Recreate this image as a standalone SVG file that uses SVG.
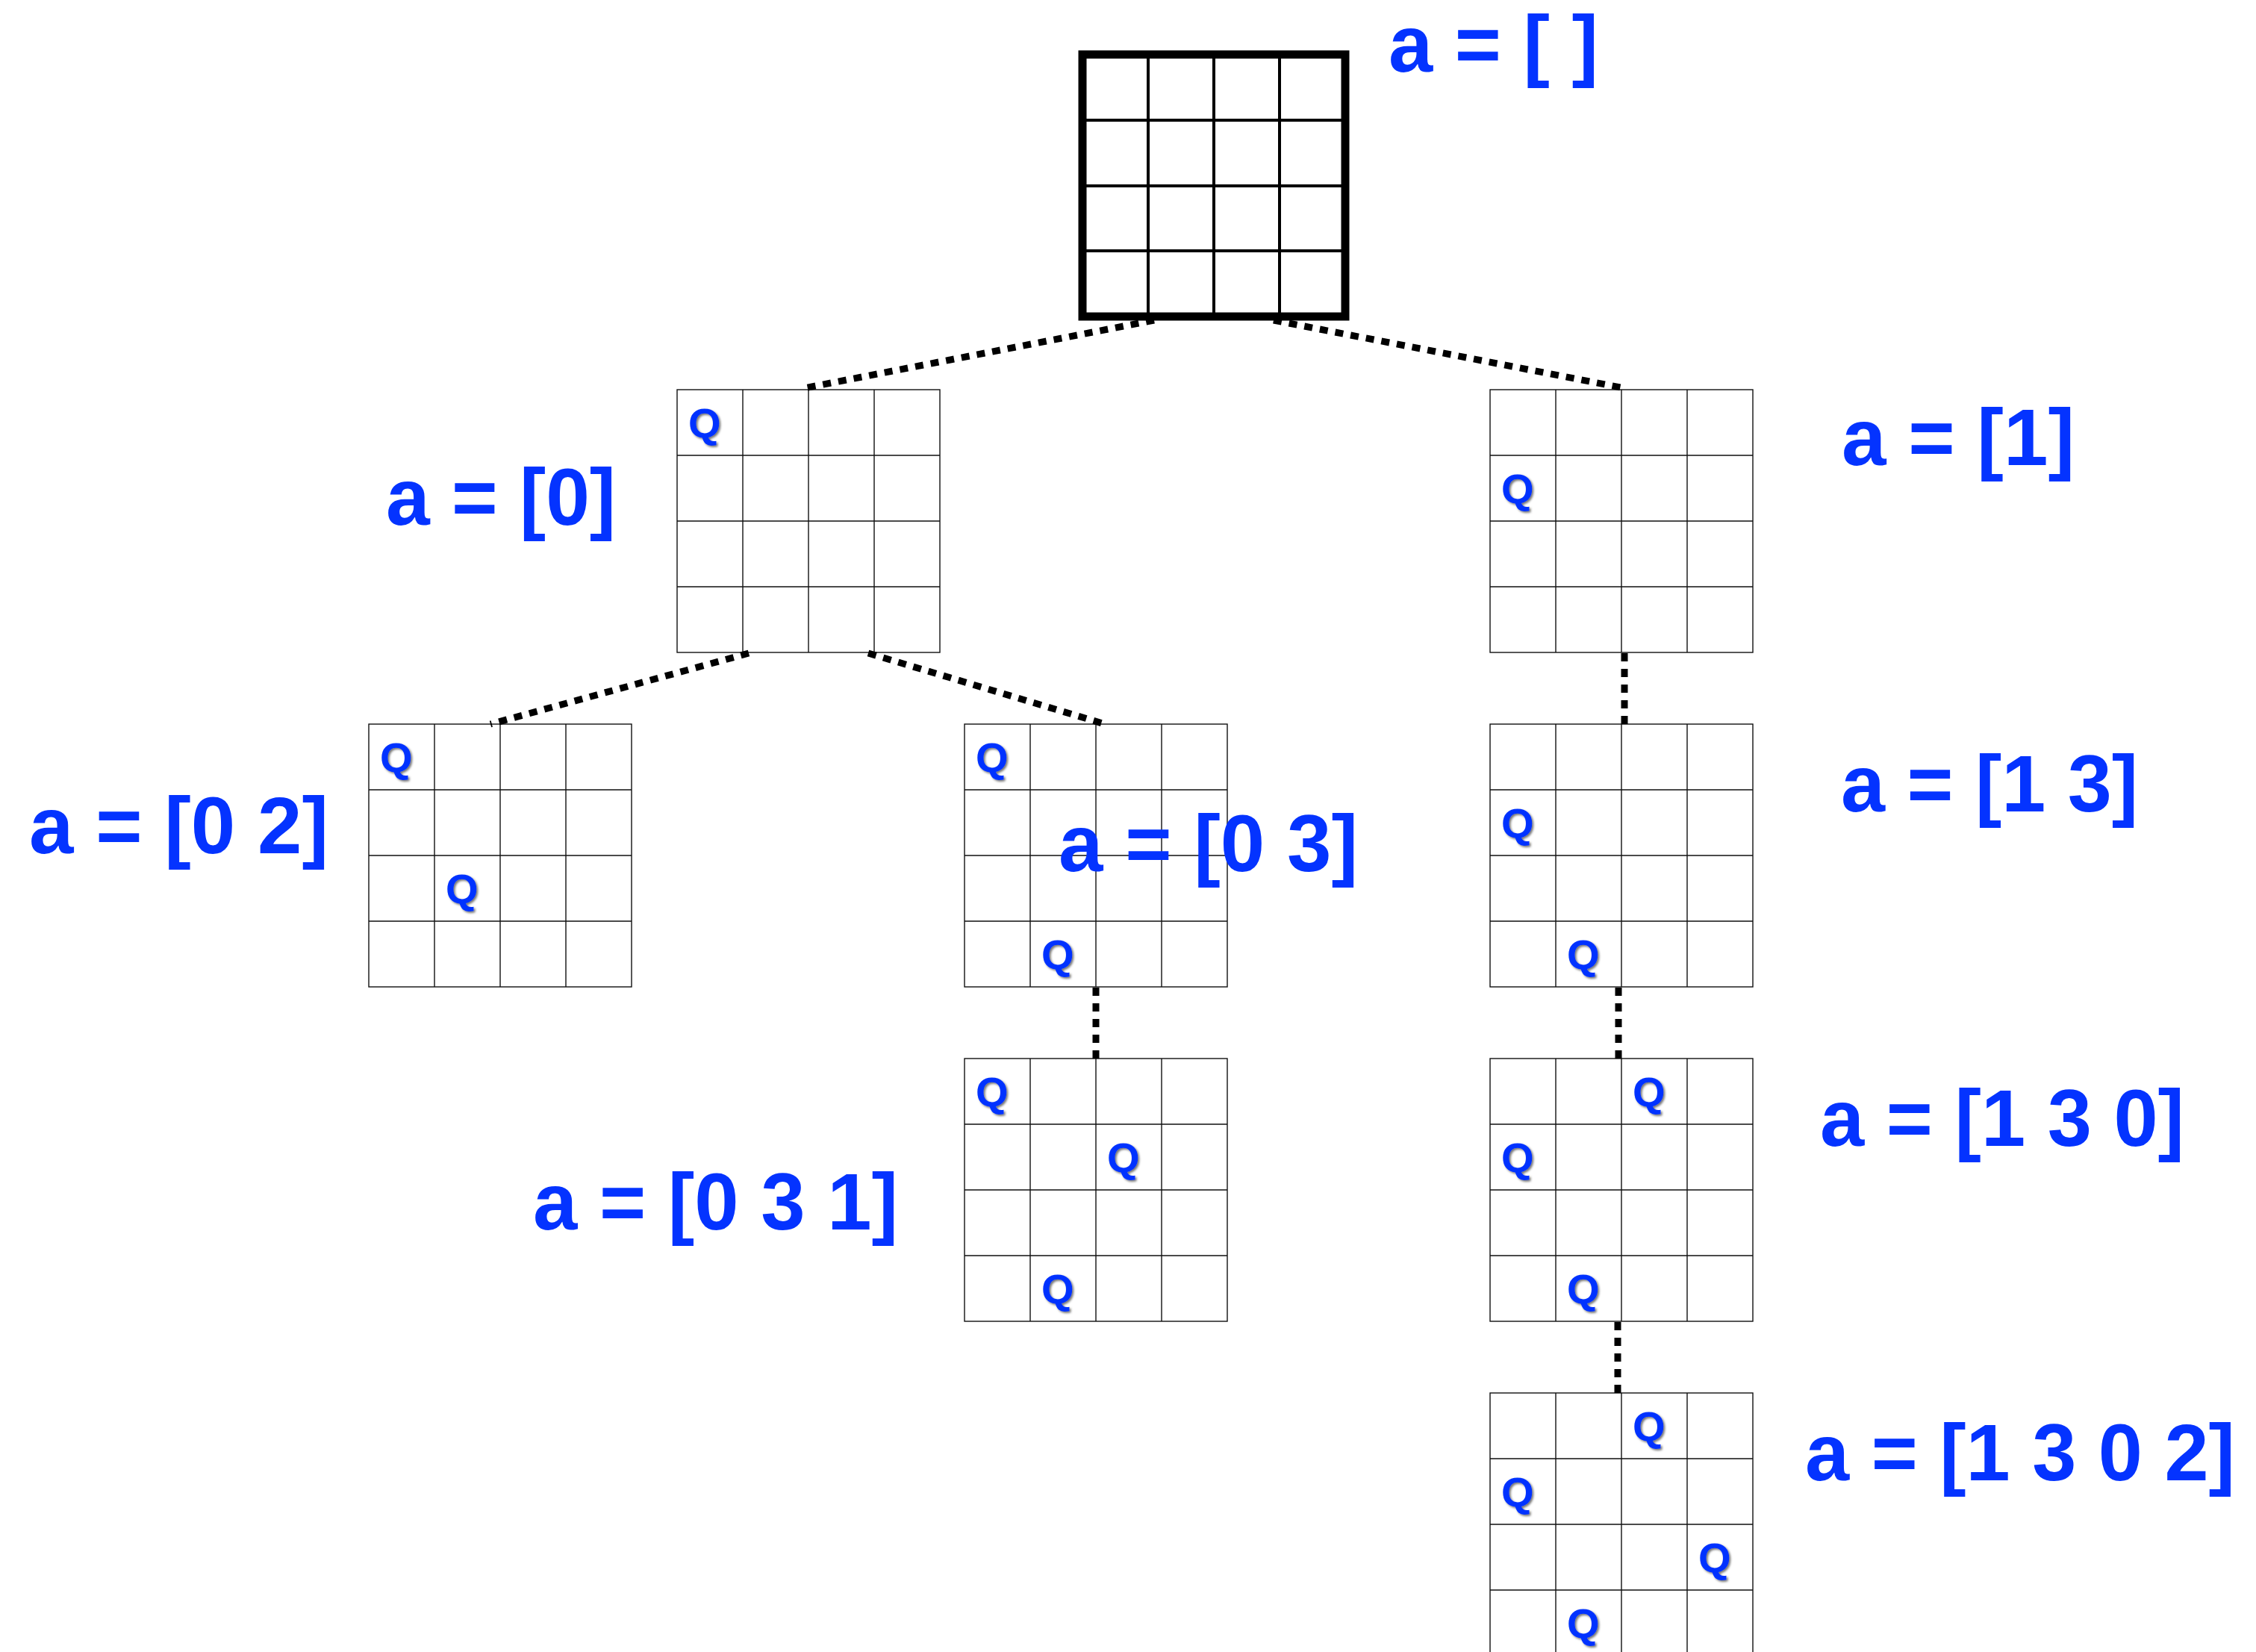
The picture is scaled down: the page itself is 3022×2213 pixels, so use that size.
<svg xmlns="http://www.w3.org/2000/svg" xmlns:xlink="http://www.w3.org/1999/xlink" width="3022" height="2213" viewBox="0 0 3022 2213">
<style>
.lbl{font-family:"Liberation Sans",Arial,sans-serif;font-weight:bold;font-size:108px;fill:#0433ff}
.q{font-family:"Liberation Sans",Arial,sans-serif;font-weight:bold;font-size:56px;fill:#0433ff;filter:url(#sh)}
.gl{fill:none;stroke:#111;stroke-width:1.4}
.con{fill:none;stroke:#000;stroke-width:9;stroke-dasharray:11 10}
</style>
<defs>
<filter id="sh" x="-20%" y="-20%" width="150%" height="150%">
<feDropShadow dx="2" dy="2" stdDeviation="1.5" flood-color="#000" flood-opacity="0.55"/>
</filter>
<g id="grid">
<rect x="0" y="0" width="352" height="352" fill="#fff" class="gl"/>
<path class="gl" d="M88 0V352M176 0V352M264 0V352M0 88H352M0 176H352M0 264H352"/>
</g>
</defs>
<rect width="3022" height="2213" fill="#fff"/>

<g id="root">
<rect x="1450" y="73" width="352" height="351" fill="#fff" stroke="#000" stroke-width="11"/>
<path d="M1538 73V424M1626 73V424M1714 73V424M1450 161H1802M1450 249H1802M1450 336H1802" stroke="#000" stroke-width="4" fill="none"/>
<text class="lbl" x="1860" y="96" textLength="281" lengthAdjust="spacingAndGlyphs">a = [ ]</text>
</g>

<g id="n0">
<use xlink:href="#grid" x="907" y="522"/>
<text class="q" x="922" y="586">Q</text>
<text class="lbl" x="517" y="703" textLength="308" lengthAdjust="spacingAndGlyphs">a = [0]</text>
</g>

<g id="n1">
<use xlink:href="#grid" x="1996" y="522"/>
<text class="q" x="2011" y="674">Q</text>
<text class="lbl" x="2467" y="623" textLength="312" lengthAdjust="spacingAndGlyphs">a = [1]</text>
</g>

<g id="n02">
<use xlink:href="#grid" x="494" y="970"/>
<text class="q" x="509" y="1034">Q</text>
<text class="q" x="597" y="1210">Q</text>
<text class="lbl" x="39" y="1143" textLength="401" lengthAdjust="spacingAndGlyphs">a = [0 2]</text>
</g>

<g id="n03">
<use xlink:href="#grid" x="1292" y="970"/>
<text class="q" x="1307" y="1034">Q</text>
<text class="q" x="1395" y="1298">Q</text>
<text class="lbl" x="1418" y="1167" textLength="401" lengthAdjust="spacingAndGlyphs">a = [0 3]</text>
</g>

<g id="n031">
<use xlink:href="#grid" x="1292" y="1418"/>
<text class="q" x="1307" y="1482">Q</text>
<text class="q" x="1483" y="1570">Q</text>
<text class="q" x="1395" y="1746">Q</text>
<text class="lbl" x="714" y="1647" textLength="489" lengthAdjust="spacingAndGlyphs">a = [0 3 1]</text>
</g>

<g id="n13">
<use xlink:href="#grid" x="1996" y="970"/>
<text class="q" x="2011" y="1122">Q</text>
<text class="q" x="2099" y="1298">Q</text>
<text class="lbl" x="2466" y="1087" textLength="398" lengthAdjust="spacingAndGlyphs">a = [1 3]</text>
</g>

<g id="n130">
<use xlink:href="#grid" x="1996" y="1418"/>
<text class="q" x="2187" y="1482">Q</text>
<text class="q" x="2011" y="1570">Q</text>
<text class="q" x="2099" y="1746">Q</text>
<text class="lbl" x="2438" y="1535" textLength="488" lengthAdjust="spacingAndGlyphs">a = [1 3 0]</text>
</g>

<g id="n1302">
<use xlink:href="#grid" x="1996" y="1866"/>
<text class="q" x="2187" y="1930">Q</text>
<text class="q" x="2011" y="2018">Q</text>
<text class="q" x="2275" y="2106">Q</text>
<text class="q" x="2099" y="2194">Q</text>
<text class="lbl" x="2418" y="1983" textLength="576" lengthAdjust="spacingAndGlyphs">a = [1 3 0 2]</text>
</g>

<g id="connectors">
<line class="con" x1="1546" y1="429" x2="1077" y2="520"/>
<line class="con" x1="1706" y1="429" x2="2176" y2="520"/>
<line class="con" x1="1003" y1="875" x2="657" y2="970"/>
<line class="con" x1="1163" y1="875" x2="1480" y2="970"/>
<line class="con" x1="1468" y1="1323" x2="1468" y2="1418"/>
<line class="con" x1="2176" y1="875" x2="2176" y2="970"/>
<line class="con" x1="2168" y1="1323" x2="2168" y2="1418"/>
<line class="con" x1="2167" y1="1771" x2="2167" y2="1866"/>
</g>
</svg>
